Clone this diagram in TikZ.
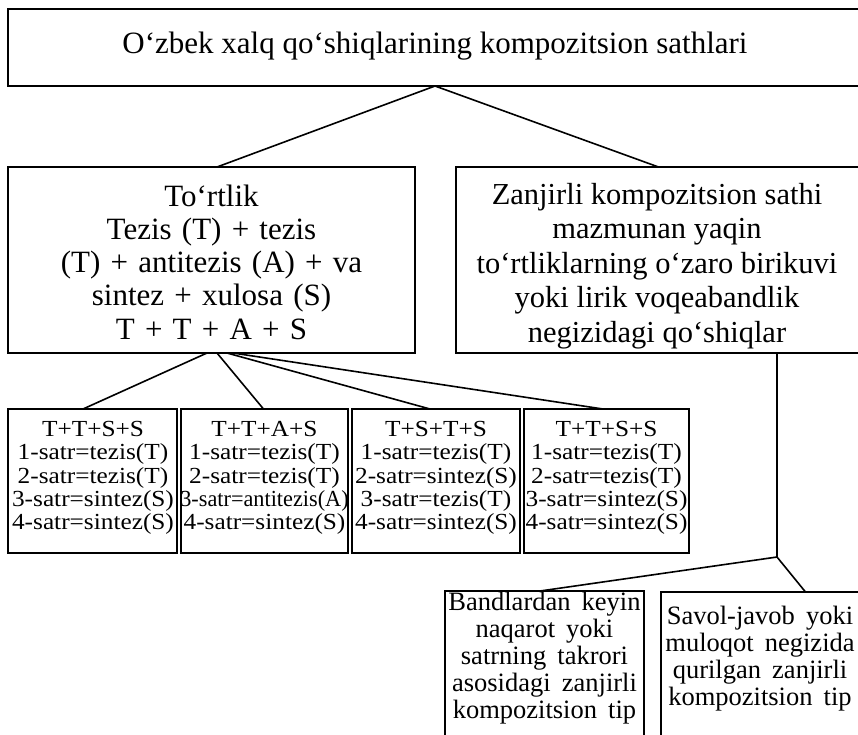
\documentclass[tikz,border=0pt]{standalone}
\usepackage{fontspec}
\setmainfont{Liberation Serif}
\newfontfamily\widefont[FakeStretch=1.1]{Liberation Serif}
\usepackage{graphicx}
\newcommand\mybigfont{\fontsize{31}{33.3}\selectfont\spaceskip 0.33em plus 0.1em\relax}
\newcommand\mylowfont{\fontsize{26.5}{27}\selectfont\spaceskip 0.42em plus 0.1em\relax}
\begin{document}
\begin{tikzpicture}[x=1pt,y=-1pt,
  box/.style={draw, line width=1.9pt, rectangle, anchor=north west, inner sep=0pt, outer sep=0pt},
  sbox/.style={box, line width=2.4pt, minimum height=144pt},
  conn/.style={line width=1.6pt, line cap=round},
  toptxt/.style={inner sep=0pt, font=\fontsize{31}{33}\selectfont},
  bigtxt/.style={align=center, inner sep=0pt, font=\mybigfont},
  rtxt/.style={align=center, inner sep=0pt, font=\fontsize{30.5}{34.5}\selectfont},
  smtxt/.style={align=center, inner sep=0pt, font=\widefont\fontsize{23}{23.3}\selectfont},
  lowtxt/.style={align=center, inner sep=0pt, font=\mylowfont}]
\fill[white] (0,0) rectangle (858,734);
\useasboundingbox (0,0) rectangle (858,734);

% boxes
\node[box, minimum width=854pt, minimum height=77pt] (tb) at (8,9) {};
\node[box, minimum width=407pt, minimum height=186pt] (lb) at (8,167) {};
\node[box, minimum width=405pt, minimum height=186pt] (rb) at (456,167) {};
\node[sbox, minimum width=169pt] (b1) at (8,409) {};
\node[sbox, minimum width=167pt] (b2) at (181,409) {};
\node[sbox, minimum width=168pt] (b3) at (352,409) {};
\node[sbox, minimum width=165pt] (b4) at (524,409) {};
\node[box, minimum width=199pt, minimum height=170pt] (ba) at (445,591) {};
\node[box, minimum width=200pt, minimum height=170pt] (bb) at (661,592) {};

% texts
\node[toptxt, anchor=base] (ttb) at (435,53) {O‘zbek xalq qo‘shiqlarining kompozitsion sathlari};
\node[bigtxt] (tlb) at (211.5,262) {To‘rtlik\\Tezis (T) + tezis\\(T) + antitezis (A) + va\\sintez + xulosa (S)\\T + T + A + S};
\node[rtxt] (trb) at (657,266) {Zanjirli kompozitsion sathi\\mazmunan yaqin\\to‘rtliklarning o‘zaro birikuvi\\yoki lirik voqeabandlik\\negizidagi qo‘shiqlar};
\node[smtxt] (tb1) at (93,478) {T+T+S+S\\1-satr=tezis(T)\\2-satr=tezis(T)\\3-satr=sintez(S)\\4-satr=sintez(S)};
\node[smtxt] (tb2) at (264.5,478) {T+T+A+S\\1-satr=tezis(T)\\2-satr=tezis(T)\\\scalebox{0.88}[1]{3-satr=antitezis(A)}\\4-satr=sintez(S)};
\node[smtxt] (tb3) at (436,478) {T+S+T+S\\1-satr=tezis(T)\\2-satr=sintez(S)\\3-satr=tezis(T)\\4-satr=sintez(S)};
\node[smtxt] (tb4) at (606.5,478) {T+T+S+S\\1-satr=tezis(T)\\2-satr=tezis(T)\\3-satr=sintez(S)\\4-satr=sintez(S)};
\node[lowtxt] (tba) at (544.5,658) {Bandlardan keyin\\naqarot yoki\\satrning takrori\\asosidagi zanjirli\\kompozitsion tip};
\node[lowtxt] (tbb) at (760,659) {Savol-javob yoki\\muloqot negizida\\qurilgan zanjirli\\kompozitsion tip};

% connectors
\coordinate (j) at (777,557);
\draw[conn] (tb.south) -- ([xshift=5.5pt]lb.north);
\draw[conn] (tb.south) -- (rb.north);
\draw[conn] ([xshift=-4.5pt]lb.south) -- ([xshift=-9.5pt]b1.north);
\draw[conn] ([xshift=5.5pt]lb.south) -- ([xshift=-1pt]b2.north);
\draw[conn] ([xshift=15.5pt]lb.south) -- ([xshift=-6pt]b3.north);
\draw[conn] ([xshift=21.5pt]lb.south) -- ([xshift=-3.5pt]b4.north);
\draw[conn] (rb.south -| j) -- (j);
\draw[conn] (j) -- ([xshift=-4.5pt]ba.north);
\draw[conn] (j) -- ([xshift=44.5pt]bb.north);
\end{tikzpicture}
\end{document}
